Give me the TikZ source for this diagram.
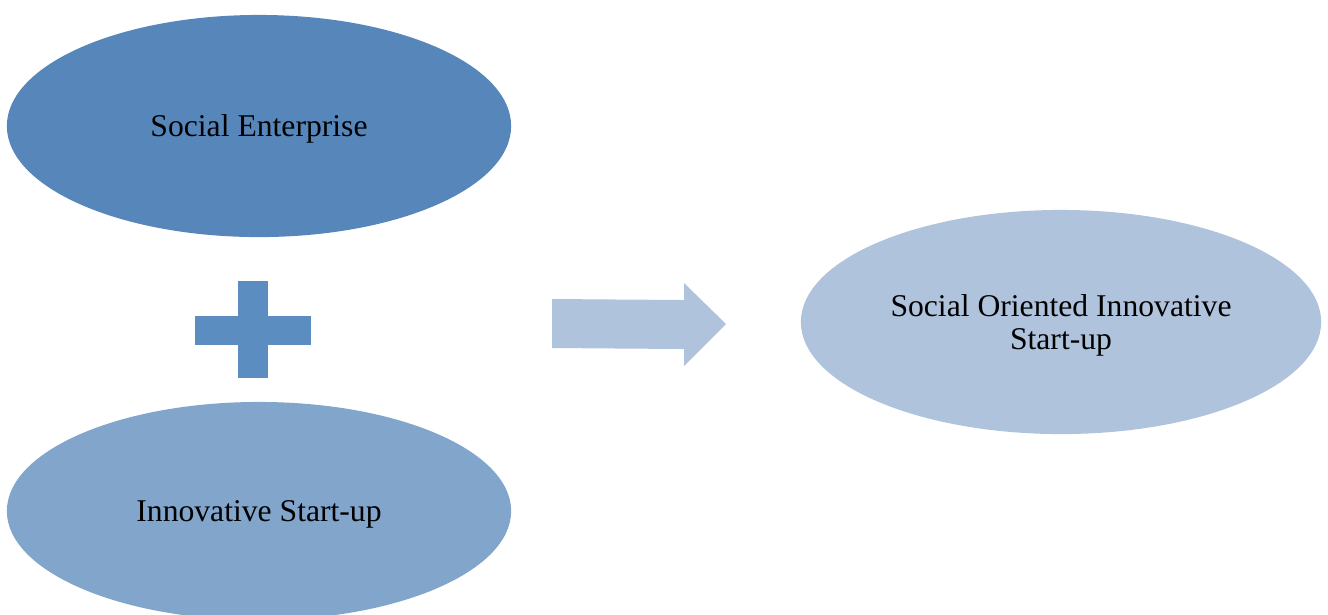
\documentclass[tikz,border=0pt]{standalone}
\usepackage{fontspec}
\setmainfont{Liberation Serif}
\usetikzlibrary{shapes.geometric}
\definecolor{eone}{HTML}{5787BA}
\definecolor{etwo}{HTML}{82A5CC}
\definecolor{ethree}{HTML}{B0C3DD}
\definecolor{plusc}{HTML}{5B8DC1}
\definecolor{arrowc}{HTML}{B0C3DD}
\tikzset{
  oval/.style={ellipse, inner sep=0pt, draw=none, align=center,
    font=\fontsize{9}{9.4}\selectfont, text=black, text depth=0pt},
}
\begin{document}
\begin{tikzpicture}[x=0.01cm,y=-0.01cm]
\useasboundingbox (0,0) rectangle (1328,614);
\clip (0,0) rectangle (1328,614);
\node[oval, fill=eone, minimum width=5.04cm, minimum height=2.22cm] (se) at (259,126) {Social Enterprise};
\node[oval, fill=etwo, minimum width=5.04cm, minimum height=2.18cm] (is) at (259,511) {Innovative Start-up};
\node[oval, fill=ethree, minimum width=5.20cm, minimum height=2.24cm] (so) at (1061,322) {Social Oriented Innovative\\Start-up};
% plus sign
\fill[plusc] (238,281) rectangle (268,378);
\fill[plusc] (195,316) rectangle (311,345);
% block arrow
\fill[arrowc] (552,299) -- (684,300) -- (684,283) -- (726,324) -- (684,366) -- (684,349) -- (552,348) -- cycle;
\end{tikzpicture}
\end{document}
